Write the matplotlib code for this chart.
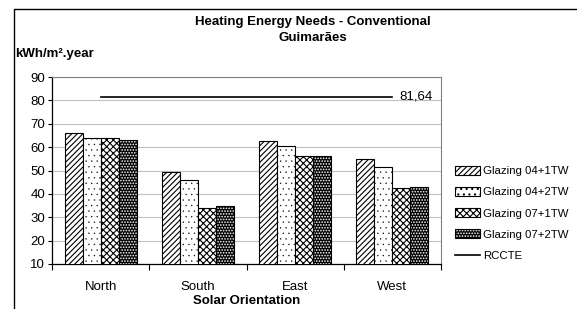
import numpy as np
import matplotlib.pyplot as plt
from matplotlib.lines import Line2D
from matplotlib.legend_handler import HandlerTuple

plt.rcParams['font.family'] = ['Liberation Sans', 'DejaVu Sans']
plt.rcParams['hatch.linewidth'] = 0.8

# Data
orientations = ["North", "South", "East", "West"]
glazing_04_1tw = [66.0, 49.5, 62.5, 55.0]
glazing_04_2tw = [64.0, 46.0, 60.5, 51.5]
glazing_07_1tw = [64.0, 34.0, 56.0, 42.5]
glazing_07_2tw = [63.0, 35.0, 56.0, 43.0]
rccte = 81.64
series_names = ["Glazing 04+1TW", "Glazing 04+2TW", "Glazing 07+1TW", "Glazing 07+2TW"]

fig = plt.figure(figsize=(5.77, 3.09), dpi=100)
ax = fig.add_axes([52/577, 1 - 264/309, (441 - 52)/577, (264 - 77)/309])

x = np.arange(len(orientations))
w = 0.185
series = [glazing_04_1tw, glazing_04_2tw, glazing_07_1tw, glazing_07_2tw]

handles = []
# Glazing 04+1TW : diagonal lines
b1 = ax.bar(x - 1.5*w, series[0], w, color='white', edgecolor='black',
            hatch='//////', linewidth=0.8, zorder=3)
handles.append(b1[0])
# Glazing 04+2TW : sparse small dots
with plt.rc_context({'hatch.linewidth': 0.2}):
    b2 = ax.bar(x - 0.5*w, series[1], w, color='white', edgecolor='black',
                hatch='...', linewidth=0.8, zorder=3)
handles.append(b2[0])
# Glazing 07+1TW : crosshatch
b3 = ax.bar(x + 0.5*w, series[2], w, color='white', edgecolor='black',
            hatch='xxxxx', linewidth=0.8, zorder=3)
handles.append(b3[0])
# Glazing 07+2TW : black with white dots
b4a = ax.bar(x + 1.5*w, series[3], w, color='black', edgecolor='white',
             hatch='......', linewidth=0, zorder=3)
b4b = ax.bar(x + 1.5*w, series[3], w, fill=False, edgecolor='black',
             linewidth=0.8, zorder=4)
handles.append((b4a[0], b4b[0]))

# RCCTE reference line
ln, = ax.plot([x[0], x[-1]], [rccte, rccte], color='black', lw=1.2, zorder=5)
handles.append(ln)
ax.annotate(f"{rccte:.2f}".replace('.', ','), xy=(x[-1], rccte), xytext=(5, 0),
            textcoords='offset points', ha='left', va='center', fontsize=9.5)

ax.set_ylim(10, 90)
ax.set_yticks(np.arange(10, 91, 10))
ax.set_xlim(-0.5, 3.5)
ax.set_xticks(np.arange(-0.5, 3.6, 1.0))
ax.set_xticklabels([])
ax.set_xticks(x, minor=True)
ax.set_xticklabels(orientations, minor=True)
ax.tick_params(axis='x', which='major', direction='out', length=4, width=0.8)
ax.tick_params(axis='x', which='minor', length=0, pad=12, labelsize=9.5)
ax.tick_params(axis='y', direction='out', length=3, width=0.8, labelsize=9.5, pad=2)

ax.yaxis.grid(True, color='#c0c0c0', lw=0.8, zorder=0)
ax.set_axisbelow(True)
for s in ['top', 'right']:
    ax.spines[s].set_color('#808080')
    ax.spines[s].set_linewidth(0.8)
for s in ['left', 'bottom']:
    ax.spines[s].set_color('black')
    ax.spines[s].set_linewidth(0.9)

ax.set_xlabel("Solar Orientation", fontsize=9.5, fontweight='bold', labelpad=2)

fig.text(313/577, 1 - 30/309, "Heating Energy Needs - Conventional\nGuimarães",
         ha='center', va='center', fontsize=9.5, fontweight='bold', linespacing=1.4)
fig.text(15/577, 1 - 54/309, "kWh/m².year", ha='left', va='center',
         fontsize=9.5, fontweight='bold')

leg = fig.legend(handles, series_names + ["RCCTE"], loc='upper left',
                 bbox_to_anchor=(455/577, 1 - 166/309), frameon=False, fontsize=8.2,
                 handlelength=2.2, handleheight=0.8, handletextpad=0.25,
                 labelspacing=0.95, borderaxespad=0, borderpad=0,
                 handler_map={tuple: HandlerTuple(ndivide=1, pad=0)})

# outer chart border (only top and left edges visible)
fig.add_artist(Line2D([14/577, 14/577, 1.0], [0.0, 1 - 9/309, 1 - 9/309],
                      transform=fig.transFigure, color='black', lw=1.0))

fig.savefig("out.png", dpi=100)
